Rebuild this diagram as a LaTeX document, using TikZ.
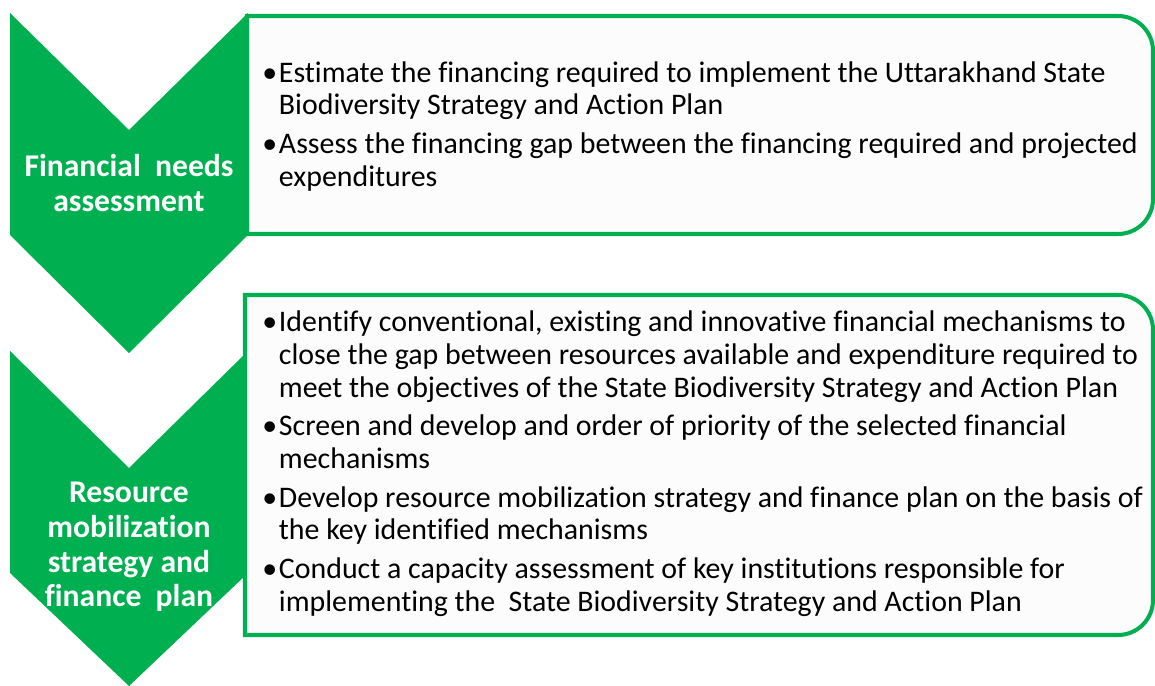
\documentclass[tikz,border=0pt]{standalone}
\usepackage{fontspec}
\setmainfont{Carlito}[Ligatures=NoCommon]
\definecolor{leafgreen}{RGB}{0,176,80}
\usetikzlibrary{positioning}

\begin{document}
\begin{tikzpicture}[
  chev/.style={fill=leafgreen,draw=none},
  infobox/.style={draw=leafgreen,line width=2.3pt,fill=white!99!black},
  chevtext/.style={text=white,font=\fontsize{18}{19.8}\selectfont\bfseries,align=center},
  infotext/.style={anchor=west,inner sep=0pt,font=\fontsize{17}{18.6}\selectfont}]
  \useasboundingbox (0,0) rectangle (23.1,-13.72);
  % chevrons
  \fill[chev] (0.2,-0.26) -- (2.58,-2.6) -- (4.96,-0.26) -- (4.96,-4.7)
    -- (2.58,-7.06) -- (0.2,-4.7) -- cycle;
  \fill[chev] (0.2,-7.02) -- (2.58,-9.36) -- (4.96,-7.02) -- (4.96,-11.46)
    -- (2.58,-13.72) -- (0.2,-11.46) -- cycle;
  % boxes, rounded on the right only
  \draw[infobox] (4.94,-0.32) -- (22.36,-0.32) arc[start angle=90,end angle=0,radius=0.7]
    -- (23.06,-3.98) arc[start angle=0,end angle=-90,radius=0.7] -- (4.94,-4.68) -- cycle;
  \draw[infobox] (4.9,-5.9) -- (22.36,-5.9) arc[start angle=90,end angle=0,radius=0.7]
    -- (23.06,-12.0) arc[start angle=0,end angle=-90,radius=0.7] -- (4.9,-12.7) -- cycle;
  % chevron labels
  \node[chevtext] (needs) at (2.58,-3.66) {Financial\ \ needs\\assessment};
  \node[chevtext] (mobil) at (2.58,-10.94) {Resource\\mobilization\\strategy and\\finance\ \ plan};
  % bullet texts
  \node[infotext] (needtext) at (5.24,-2.55) {\begin{tabular}{@{}l@{\hspace{1pt}}l@{}}
    \textbullet & Estimate the financing required to implement the Uttarakhand State\\
    & Biodiversity Strategy and Action Plan\\[3.4pt]
    \textbullet & Assess the financing gap between the financing required and projected\\
    & expenditures
  \end{tabular}};
  \node[infotext] (mobiltext) at (5.24,-9.3) {\begin{tabular}{@{}l@{\hspace{1pt}}l@{}}
    \textbullet & Identify conventional, existing and innovative financial mechanisms to\\
    & close the gap between resources available and expenditure required to\\
    & meet the objectives of the State Biodiversity Strategy and Action Plan\\[3.4pt]
    \textbullet & Screen and develop and order of priority of the selected financial\\
    & mechanisms\\[3.4pt]
    \textbullet & Develop resource mobilization strategy and finance plan on the basis of\\
    & the key identified mechanisms\\[3.4pt]
    \textbullet & Conduct a capacity assessment of key institutions responsible for\\
    & implementing the\ \ State Biodiversity Strategy and Action Plan
  \end{tabular}};
\end{tikzpicture}
\end{document}
